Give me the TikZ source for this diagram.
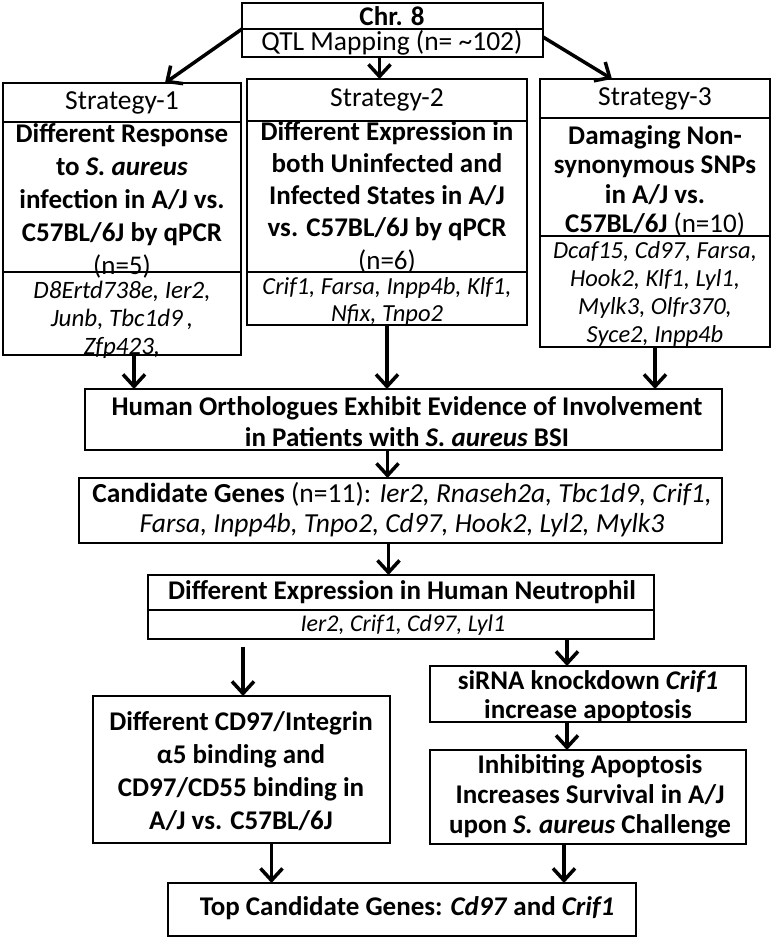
\documentclass[tikz,border=0pt]{standalone}
\usepackage{fontspec}
\setmainfont{Carlito}
\usetikzlibrary{arrows.meta}
\newcommand\mybox[5]{\node[box, minimum width={(#4-#2)*1pt}, minimum height={(#5-#3)*1pt}] (#1) at ({(#2+#4)/2},{(#3+#5)/2}) {};}
\begin{document}
\begin{tikzpicture}[x=1pt,y=-1pt,
  box/.style={draw, line width=2.4pt, inner sep=0pt, outer sep=0pt},
  arr/.style={line width=3.5pt, -{Straight Barb[length=12pt,width=22pt,line width=3.5pt]}},
  txt/.style={inner sep=0pt, align=center},
  bt/.style={txt, font=\fontsize{27}{33}\selectfont\bfseries},
  rt/.style={txt, font=\fontsize{27.5}{30}\selectfont},
  gt/.style={txt, font=\fontsize{25}{28}\selectfont\itshape}]
\useasboundingbox[fill=white] (0,0) rectangle (772,940);
% boxes
\mybox{topa}{242}{3}{543}{29}
\mybox{topb}{242}{29}{543}{57}
\mybox{s1h}{3}{83}{241}{122}
\mybox{s1b}{3}{122}{241}{272}
\mybox{s1g}{3}{272}{241}{355}
\mybox{s2h}{247}{79}{527}{121}
\mybox{s2b}{247}{121}{527}{272}
\mybox{s2g}{247}{272}{527}{325}
\mybox{s3h}{540}{79}{770}{118}
\mybox{s3b}{540}{118}{770}{236}
\mybox{s3g}{540}{236}{770}{347}
\mybox{hum}{85}{389}{722}{450}
\mybox{cand}{79}{478}{722}{543}
\mybox{neua}{148}{575}{654}{610}
\mybox{neub}{148}{610}{654}{639}
\mybox{cd}{93}{696}{390}{843}
\mybox{si}{430}{666}{746}{722}
\mybox{inh}{430}{750}{746}{844}
\mybox{fin}{168}{883}{636}{936}
% texts
\node[bt] (t0) at (392,16) {Chr. 8};
\node[rt] (t1) at (392,43) {QTL Mapping (n= \char`\~102)};
\node[rt] (s1ht) at (122,103) {Strategy-1};
\node[bt] (s1bt) at (122,201) {Different Response\\to \textit{S. aureus}\\infection in A/J vs.\\C57BL/6J by qPCR\\\mdseries (n=5)};
\node[gt] (s1gt) at (122,320) {D8Ertd738e, Ier2,\\Junb, Tbc1d9\,,\\Zfp423,};
\node[rt] (s2ht) at (387,100) {Strategy-2};
\node[bt, font=\fontsize{27}{32.3}\selectfont\bfseries] (s2bt) at (387,197) {Different Expression in\\both Uninfected and\\Infected States in A/J\\vs. C57BL/6J by qPCR\\\mdseries (n=6)};
\node[gt, font=\fontsize{24.5}{27}\selectfont\itshape] (s2gt) at (387,301) {Crif1, Farsa, Inpp4b, Klf1,\\Nfix, Tnpo2};
\node[rt] (s3ht) at (655,99) {Strategy-3};
\node[bt, font=\fontsize{27}{29.3}\selectfont\bfseries] (s3bt) at (655,181) {Damaging Non-\\synonymous SNPs\\in A/J vs.\\C57BL/6J {\mdseries (n=10)}};
\node[gt, font=\fontsize{24.5}{28.3}\selectfont\itshape] (s3gt) at (655,294) {Dcaf15, Cd97, Farsa,\\Hook2, Klf1, Lyl1,\\Mylk3, Olfr370,\\Syce2, Inpp4b};
\node[bt, font=\fontsize{27}{31}\selectfont\bfseries] (humt) at (407,422) {Human Orthologues Exhibit Evidence of Involvement\\in Patients with \textit{S. aureus} BSI};
\node[rt] (candt) at (402,510) {{\bfseries Candidate Genes} (n=11): \textit{Ier2, Rnaseh2a, Tbc1d9, Crif1,}\\\textit{Farsa, Inpp4b, Tnpo2, Cd97, Hook2, Lyl2, Mylk3}};
\node[bt] (neuat) at (402,592) {Different Expression in Human Neutrophil};
\node[gt, font=\fontsize{24}{26}\selectfont\itshape] (neubt) at (403,625) {Ier2, Crif1, Cd97, Lyl1};
\node[bt] (cdt) at (241,771) {Different CD97/Integrin\\α5 binding and\\CD97/CD55 binding in\\A/J vs. C57BL/6J};
\node[bt, font=\fontsize{27}{29}\selectfont\bfseries] (sit) at (588,697) {siRNA knockdown \textit{Crif1}\\increase apoptosis};
\node[bt, font=\fontsize{27}{30}\selectfont\bfseries] (inht) at (590,796) {Inhibiting Apoptosis\\Increases Survival in A/J\\upon \textit{S. aureus} Challenge};
\node[bt] (fint) at (407,908) {Top Candidate Genes: \textit{Cd97} and \textit{Crif1}};
% connectors
\coordinate (a0) at ([xshift=-13pt]topb.south);
\draw[arr] (topa.south west) -- ([xshift=43pt]s1h.north);
\draw[arr] (a0) -- (a0 |- s2h.north);
\draw[arr] ([yshift=-8pt]topa.south east) -- ([xshift=-43pt]s3h.north);
\coordinate (a1) at ([xshift=12pt]s1g.south);
\draw[arr] (a1) -- (a1 |- hum.north);
\draw[arr] (s2g.south) -- (s2g.south |- hum.north);
\draw[arr] (s3g.south) -- (s3g.south |- hum.north);
\coordinate (a2) at ([xshift=-16pt]hum.south);
\draw[arr] (a2) -- (a2 |- cand.north);
\coordinate (a3) at ([xshift=-12pt]cand.south);
\draw[arr] (a3) -- (a3 |- neua.north);
\coordinate (c1) at (243,647);
\draw[arr] (c1) -- (c1 |- cd.north);
\coordinate (a4) at ([xshift=166pt]neub.south);
\draw[arr] (a4) -- (a4 |- si.north);
\coordinate (a5) at ([xshift=-21pt]si.south);
\draw[arr] (a5) -- (a5 |- inh.north);
\coordinate (a6) at ([xshift=30pt]cd.south);
\draw[arr] (a6) -- (a6 |- fin.north);
\coordinate (a7) at ([xshift=-24pt]inh.south);
\draw[arr] (a7) -- (a7 |- fin.north);
\end{tikzpicture}
\end{document}
